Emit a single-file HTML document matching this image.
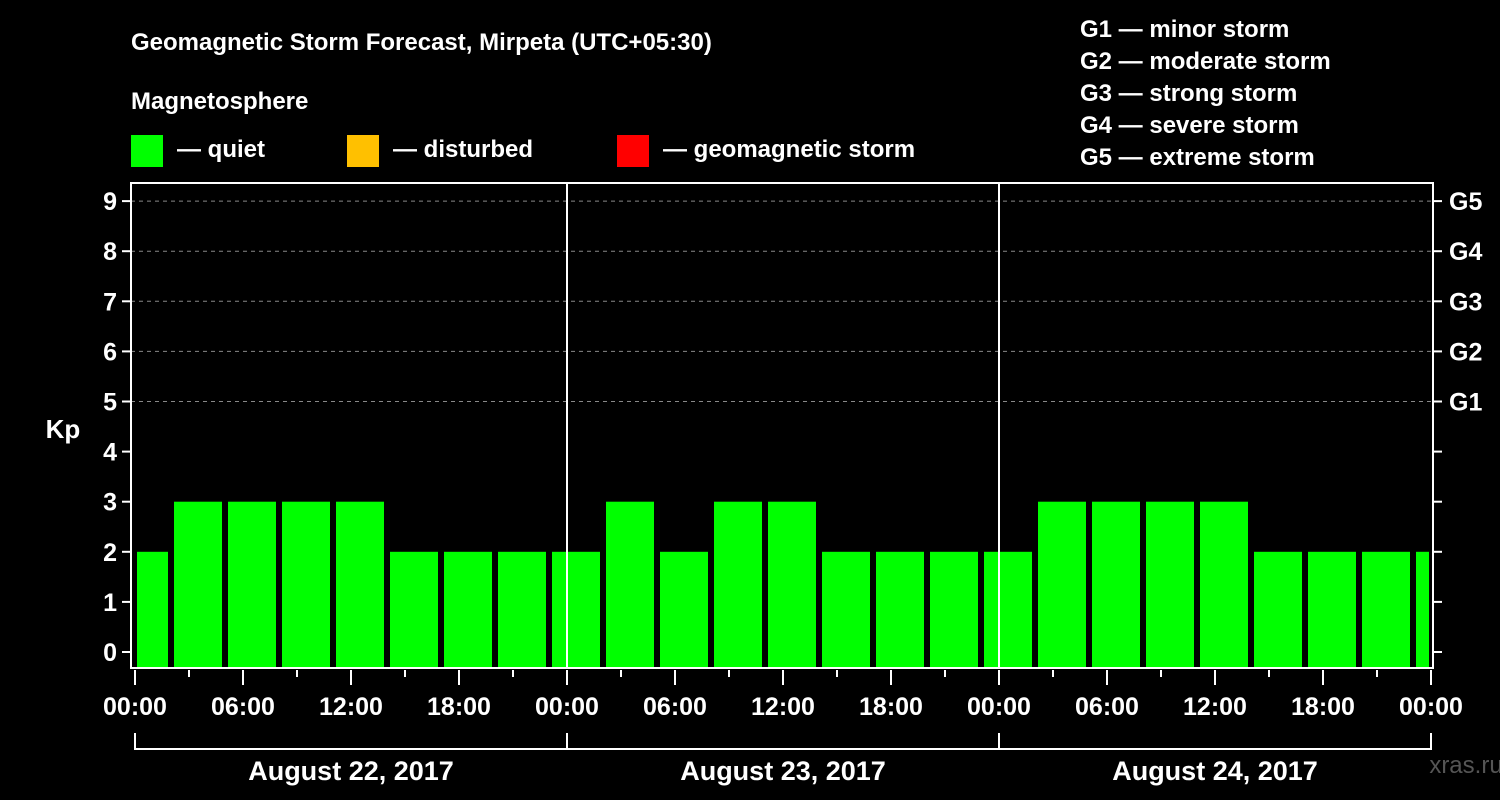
<!DOCTYPE html>
<html><head><meta charset="utf-8"><style>
html,body{margin:0;padding:0;background:#000;}
svg{display:block;font-family:"Liberation Sans",Arial,sans-serif;font-weight:bold;}
</style></head><body>
<svg id="chart" width="1500" height="800" xmlns="http://www.w3.org/2000/svg">
<rect x="0" y="0" width="1500" height="800" fill="#000"/>
<text x="131" y="50" font-size="24" fill="#fff">Geomagnetic Storm Forecast, Mirpeta (UTC+05:30)</text>
<text x="131" y="109" font-size="24" fill="#fff">Magnetosphere</text>
<g><rect x="131" y="135" width="32" height="32" fill="#00ff00"/><text x="177" y="157" font-size="24" fill="#fff">— quiet</text></g>
<g><rect x="347" y="135" width="32" height="32" fill="#ffc000"/><text x="393" y="157" font-size="24" fill="#fff">— disturbed</text></g>
<g><rect x="617" y="135" width="32" height="32" fill="#ff0000"/><text x="663" y="157" font-size="24" fill="#fff">— geomagnetic storm</text></g>
<g font-size="24" fill="#fff">
<text x="1080" y="37">G1 — minor storm</text>
<text x="1080" y="69">G2 — moderate storm</text>
<text x="1080" y="101">G3 — strong storm</text>
<text x="1080" y="133">G4 — severe storm</text>
<text x="1080" y="165">G5 — extreme storm</text>
</g>
<text x="63" y="438" font-size="26" fill="#fff" text-anchor="middle">Kp</text>
<text x="1466" y="773" font-size="24" fill="#555" text-anchor="middle" font-weight="normal">xras.ru</text>
<g id="grid"></g><g id="bars"></g><g id="axes"></g>
</svg>
<script>
const kpValues = [2,3,3,3,3,2,2,2,2,3,2,3,3,2,2,2,2,3,3,3,3,2,2,2,2];
const slotStartHour = -1;
const slotHours = 3;
const dayLabels = ["August 22, 2017","August 23, 2017","August 24, 2017"];
const timeLabels = ["00:00","06:00","12:00","18:00"];
const yTicks = [0,1,2,3,4,5,6,7,8,9];
const gLabels = ["G1","G2","G3","G4","G5"];

const NS="http://www.w3.org/2000/svg";
const X0=135, PXH=18, TOTALH=72, Y0=652, PXU=50.1, BOTTOM=668, TOP=183, LEFT=131, RIGHT=1433;
const xs=h=>X0+h*PXH, ys=v=>Y0-v*PXU;
function mk(tag,attrs,parent,text){const e=document.createElementNS(NS,tag);for(const k in attrs)e.setAttribute(k,attrs[k]);if(text!==undefined)e.textContent=text;parent.appendChild(e);return e;}
const grid=document.getElementById('grid'),bars=document.getElementById('bars'),axes=document.getElementById('axes');

// gridlines for G levels
for(let v=5;v<=9;v++){const l=mk('line',{x1:LEFT,x2:RIGHT,y1:ys(v),y2:ys(v),stroke:'#888','stroke-dasharray':'4,4','stroke-width':1},grid);

}

kpValues.forEach((v,i)=>{
 let h0=slotStartHour+i*slotHours, h1=h0+slotHours;
 let a=Math.max(h0,0), b=Math.min(h1,TOTALH);
 let x1=xs(a)+(h0<0?2:3), x2=xs(b)-(h1>TOTALH?2:3);
 const color=v>=5?'#ff0000':(v>=4?'#ffc000':'#00ff00');
 const r=mk('rect',{x:x1,y:ys(v),width:x2-x1,height:BOTTOM-ys(v),fill:color},bars);
 
 
});

// day separators
for(let d=1;d<3;d++){const l=mk('line',{x1:xs(d*24),x2:xs(d*24),y1:TOP,y2:BOTTOM,stroke:'#fff','stroke-width':2},axes);

}

const frame=mk('rect',{x:LEFT,y:TOP,width:RIGHT-LEFT,height:BOTTOM-TOP,fill:'none',stroke:'#fff','stroke-width':2},axes);



yTicks.forEach(v=>{
 mk('line',{x1:LEFT-9,x2:LEFT,y1:ys(v),y2:ys(v),stroke:'#fff','stroke-width':2},axes);
 mk('line',{x1:RIGHT,x2:RIGHT+9,y1:ys(v),y2:ys(v),stroke:'#fff','stroke-width':2},axes);
 const t=mk('text',{x:LEFT-14,y:ys(v)+9,'font-size':25,fill:'#fff','text-anchor':'end'},axes,String(v));
 
 
});
gLabels.forEach((g,i)=>{
 const t=mk('text',{x:RIGHT+16,y:ys(5+i)+9,'font-size':25,fill:'#fff'},axes,g);
 
 
});

for(let h=0;h<=TOTALH;h+=3){
 const major=h%6===0;
 mk('line',{x1:xs(h),x2:xs(h),y1:BOTTOM+2,y2:BOTTOM+(major?17:9),stroke:'#fff','stroke-width':2},axes);
 if(major){const t=mk('text',{x:xs(h),y:715,'font-size':25,fill:'#fff','text-anchor':'middle'},axes,timeLabels[(h/6)%4]);
 
 }
}
dayLabels.forEach((d,i)=>{
 const a=xs(i*24),b=xs((i+1)*24);
 mk('path',{d:`M${a},733V749H${b}V733`,fill:'none',stroke:'#fff','stroke-width':2},axes);
 const t=mk('text',{x:(a+b)/2,y:780,'font-size':27,fill:'#fff','text-anchor':'middle'},axes,d);
 
 
});
</script>
</body></html>
